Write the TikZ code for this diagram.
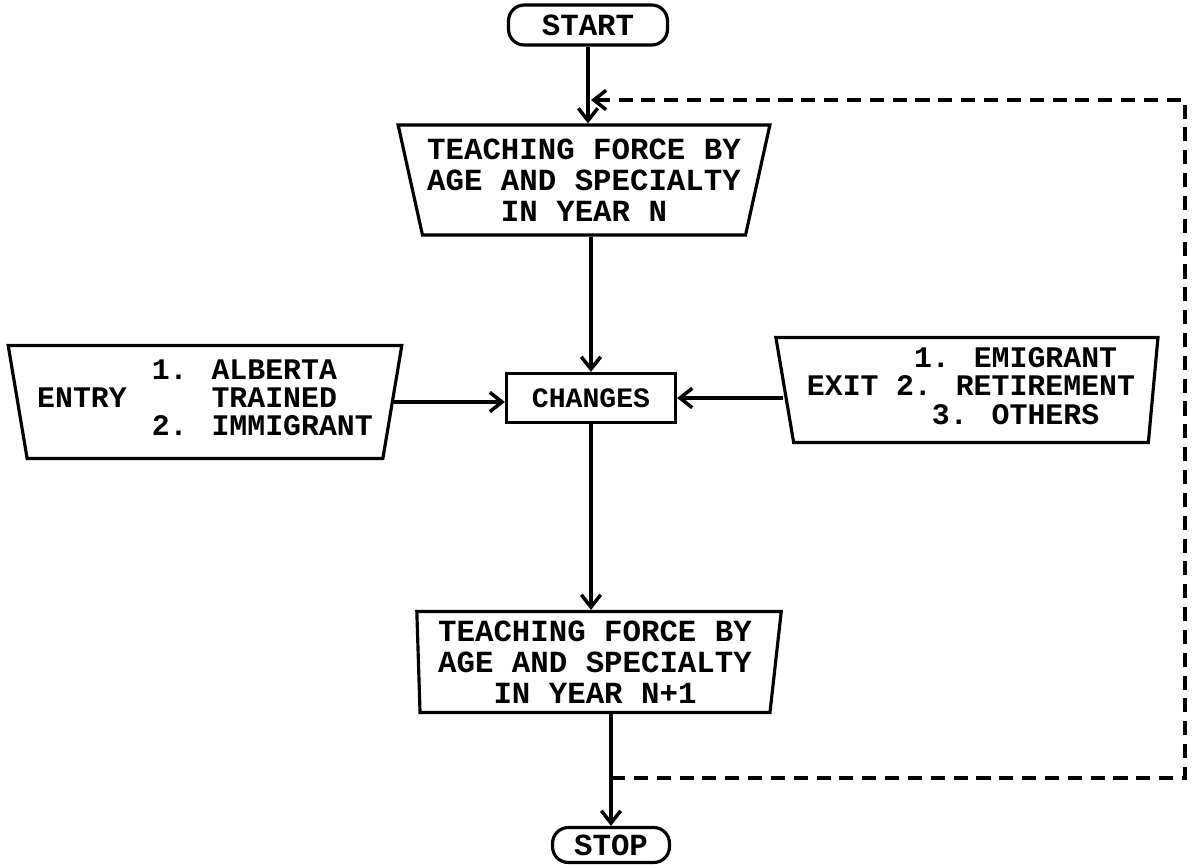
\documentclass[tikz,border=0pt]{standalone}
\usepackage{fontspec}
\setmainfont{Liberation Mono}
\usetikzlibrary{shapes.geometric,arrows.meta}

\begin{document}
\begin{tikzpicture}[x=0.02cm,y=-0.02cm,
    every node/.style={font=\bfseries\fontsize{17.5}{17.6}\selectfont},
    connect/.style={draw,line width=2pt,-{Straight Barb[length=7pt,width=11pt]}},
    loopline/.style={draw,line width=2pt,dash pattern=on 8pt off 5pt,-{Straight Barb[length=7pt,width=11pt]}},
    stepbox/.style={draw,line width=1.8pt,trapezium,trapezium stretches=true,shape border rotate=180,align=center,inner sep=0pt},
    listbox/.style={stepbox,font=\bfseries\fontsize{17}{15.6}\selectfont},
    terminal/.style={draw,line width=1.8pt,rounded corners=9pt,inner sep=0pt}
  ]
    \useasboundingbox (0,0) rectangle (1197,865);

    \node (start) at (588,25) [terminal,minimum width=3.18cm,minimum height=0.8cm] {START};
    \node (yearN) at (584,180) [stepbox,trapezium left angle=74,trapezium right angle=74,minimum width=7.46cm,minimum height=2.2cm]
      {TEACHING FORCE BY\\AGE AND SPECIALTY\\IN YEAR N};
    \node (changes) at (591,398) [draw,line width=1.8pt,minimum width=3.38cm,minimum height=0.98cm,inner sep=0pt,font=\bfseries\fontsize{16}{16}\selectfont] {CHANGES};
    \node (entry) at (205,402) [listbox,trapezium left angle=78,trapezium right angle=78,minimum width=7.9cm,minimum height=2.26cm]
      {\begin{tabular}{@{}l@{\hspace{0.5cm}}l@{}}
        & 1. ALBERTA\\
        ENTRY & \phantom{1. }TRAINED\\
        & 2. IMMIGRANT
      \end{tabular}};
    \node (exit) at (971,390) [listbox,trapezium left angle=84,trapezium right angle=79,minimum width=7.66cm,minimum height=2.1cm]
      {\begin{tabular}{@{}l@{\hspace{0.35cm}}c@{}}
        & 1. EMIGRANT\\
        EXIT & 2. RETIREMENT\\
        & 3. OTHERS
      \end{tabular}};
    \node (nextyear) at (595,662) [stepbox,trapezium left angle=83,trapezium right angle=88,minimum width=7.3cm,minimum height=2.02cm]
      {TEACHING FORCE BY\\AGE AND SPECIALTY\\IN YEAR N+1};
    \node (stop) at (611,845) [terminal,minimum width=2.34cm,minimum height=0.7cm] {STOP};

    \path [connect] (start.south) -- (start.south |- yearN.north);
    \path [connect] (changes.north |- yearN.south) -- (changes.north);
    \path [connect] (entry.east) -- (entry.east -| changes.west);
    \path [connect] (changes.east -| exit.west) -- (changes.east);
    \path [connect] (changes.south) -- (changes.south |- nextyear.north);
    \path [connect] (stop.north |- nextyear.south) -- (stop.north);

    % loop back to the next year
    \coordinate (loopout) at (611,778);
    \coordinate (loopin) at (591,100);
    \path [loopline] (loopout) -- (1185,778) -- (1185,100) -- (loopin);
  \end{tikzpicture}
\end{document}
